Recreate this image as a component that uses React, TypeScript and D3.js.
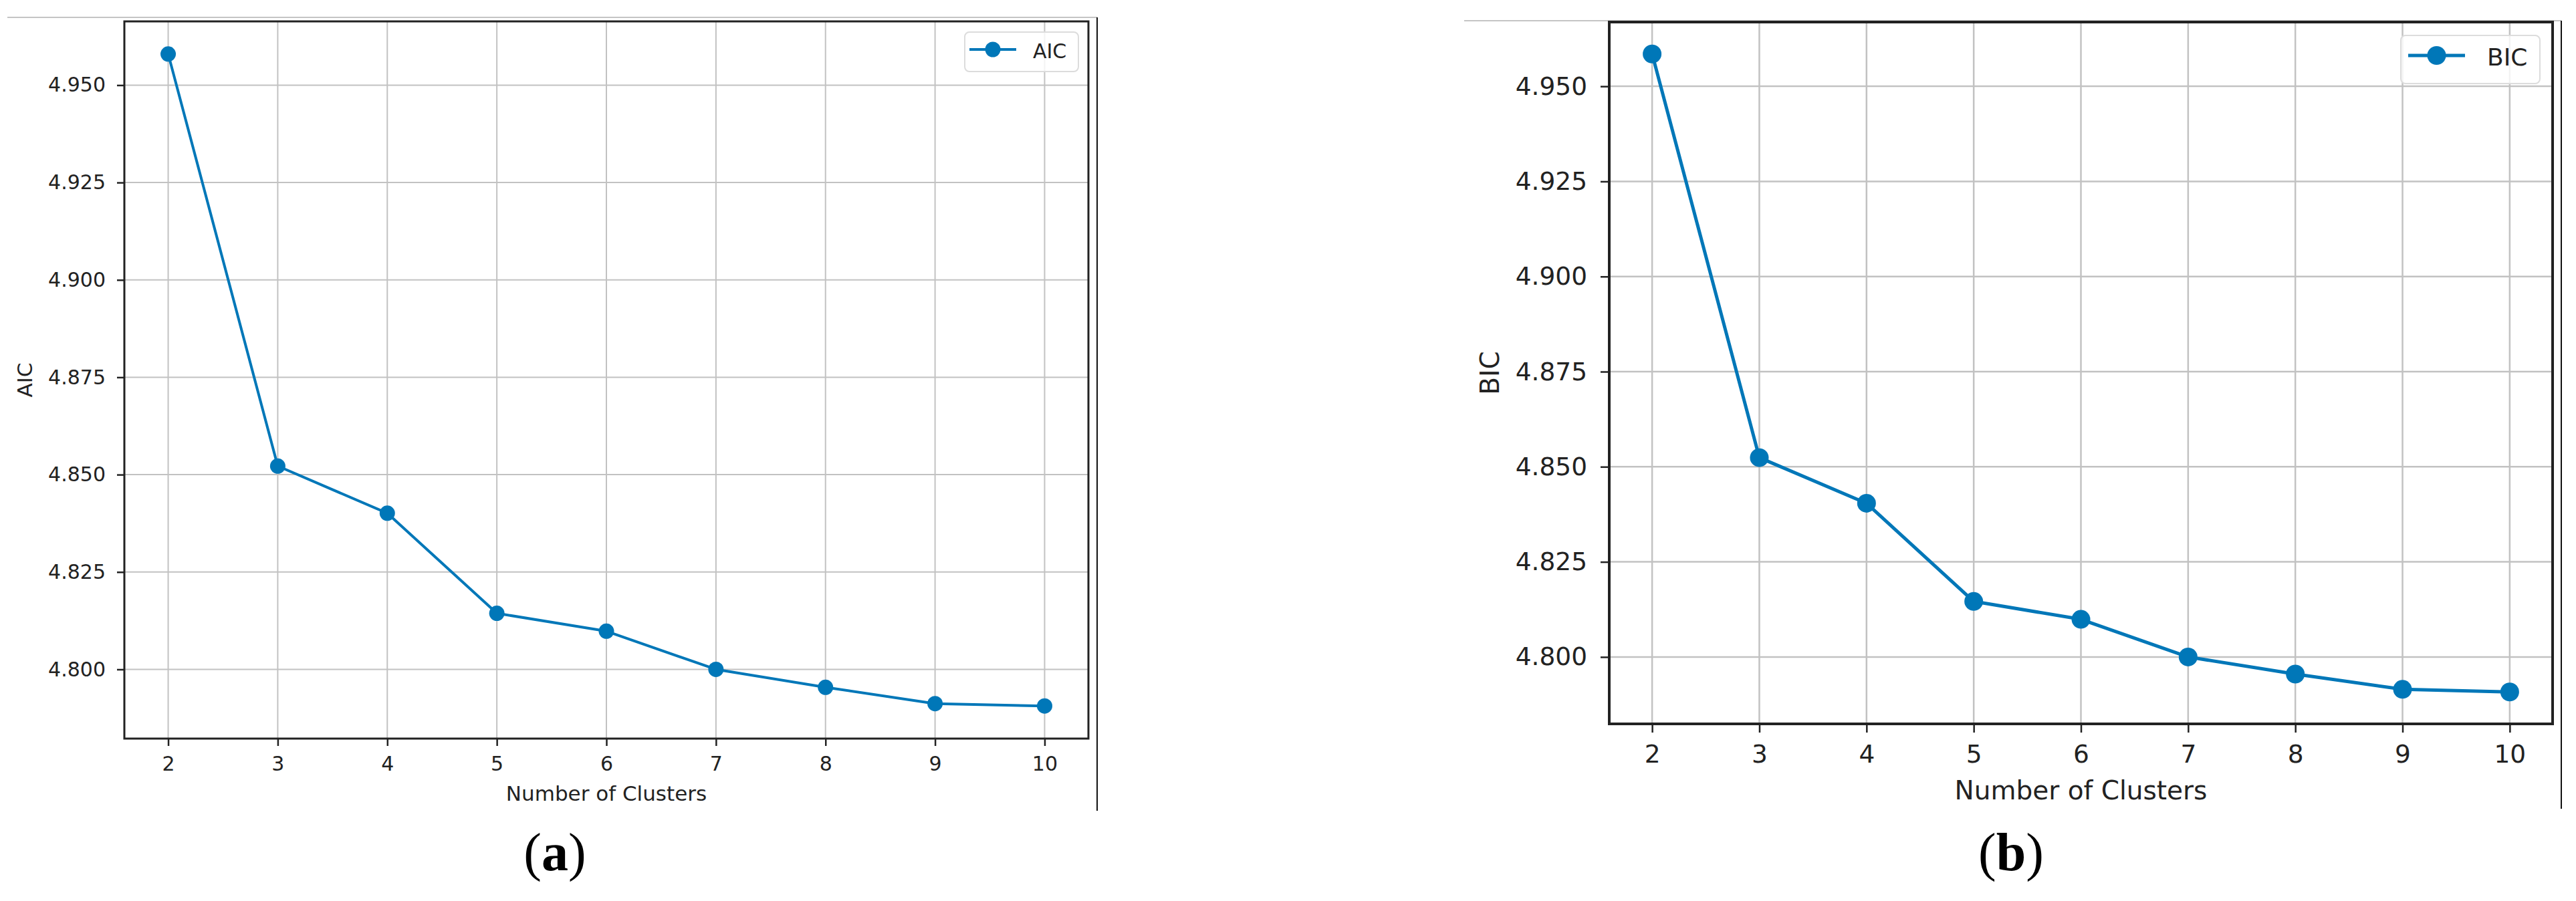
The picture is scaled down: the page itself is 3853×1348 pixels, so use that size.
import React, { useEffect, useRef } from 'react';
import * as d3 from 'd3';

// number of clusters on the x axis
const clusters = [2, 3, 4, 5, 6, 7, 8, 9, 10];
// information criteria
const aicValues = [4.958, 4.8522, 4.8401, 4.8144, 4.8098, 4.8, 4.7954, 4.7912, 4.7906];
const bicValues = [4.9585, 4.8524, 4.8404, 4.8146, 4.8099, 4.8, 4.7955, 4.7915, 4.7908];
const yTicks = [4.8, 4.825, 4.85, 4.875, 4.9, 4.925, 4.95];
const xLabel = 'Number of Clusters';

const BLUE = '#0077b8';
const FONT = '"DejaVu Sans", sans-serif';

const panels = [
  {
    name: 'AIC', caption: 'a', values: aicValues,
    left: 186, right: 1628, top: 32, bottom: 1105,
    frameLeft: 11, frameRight: 1641, frameTop: 26, frameBottom: 1213,
    font: 30, labelFont: 31, tick: 11, padY: 17, padX: 16,
    xLabelY: 1198, yLabelX: 48, captionX: 830,
    r: 11.5, lw: 4, spine: 3, grid: 2,
    legend: { x0: 1443, x1: 1613, y0: 48, y1: 107, lx0: 1450, lx1: 1520, ly: 74, tx: 1545, ty: 87, font: 30 },
  },
  {
    name: 'BIC', caption: 'b', values: bicValues,
    left: 2407, right: 3818, top: 33, bottom: 1083,
    frameLeft: 2190, frameRight: 3831, frameTop: 31, frameBottom: 1210,
    font: 37.5, labelFont: 39, tick: 13, padY: 20, padX: 18,
    xLabelY: 1196, yLabelX: 2242, captionX: 3008,
    r: 14, lw: 5, spine: 4, grid: 2.5,
    legend: { x0: 3591, x1: 3799, y0: 53, y1: 125, lx0: 3602, lx1: 3687, ly: 83, tx: 3720, ty: 98, font: 36 },
  },
];

// matplotlib style 5% margins
const padded = (ext: [number, number]) => {
  const m = (ext[1] - ext[0]) * 0.05;
  return [ext[0] - m, ext[1] + m];
};

const App = () => {
  const svgRef = useRef<SVGSVGElement>(null);

  useEffect(() => {
    const svg = d3.select(svgRef.current);
    svg.selectAll('*').remove();

    panels.forEach((p) => {
      const g = svg.append('g');
      const x = d3.scaleLinear().domain(padded(d3.extent(clusters) as [number, number])).range([p.left, p.right]);
      const y = d3.scaleLinear().domain(padded(d3.extent(p.values) as [number, number])).range([p.bottom, p.top]);

      // screenshot frame lines
      g.append('line')
        .attr('x1', p.frameLeft).attr('x2', p.frameRight)
        .attr('y1', p.frameTop).attr('y2', p.frameTop)
        .attr('stroke', '#c4c4c4').attr('stroke-width', 2);
      g.append('line')
        .attr('x1', p.frameRight).attr('x2', p.frameRight)
        .attr('y1', p.frameTop).attr('y2', p.frameBottom)
        .attr('stroke', '#111').attr('stroke-width', 2);

      // grid
      g.append('g').selectAll('line')
        .data(clusters)
        .enter().append('line')
        .attr('x1', d => x(d)).attr('x2', d => x(d))
        .attr('y1', p.top).attr('y2', p.bottom)
        .attr('stroke', '#c2c2c2').attr('stroke-width', p.grid);
      g.append('g').selectAll('line')
        .data(yTicks)
        .enter().append('line')
        .attr('x1', p.left).attr('x2', p.right)
        .attr('y1', d => y(d)).attr('y2', d => y(d))
        .attr('stroke', '#c2c2c2').attr('stroke-width', p.grid);

      // axes
      const yAxis = g.append('g')
        .attr('transform', `translate(${p.left},0)`)
        .call(d3.axisLeft(y).tickValues(yTicks).tickFormat(d3.format('.3f')).tickSize(p.tick).tickPadding(p.padY));
      const xAxis = g.append('g')
        .attr('transform', `translate(0,${p.bottom})`)
        .call(d3.axisBottom(x).tickValues(clusters).tickFormat(d3.format('d')).tickSize(p.tick).tickPadding(p.padX));
      [yAxis, xAxis].forEach(ax => {
        ax.select('.domain').remove();
        ax.selectAll('line').attr('stroke', '#222').attr('stroke-width', 2.5);
        ax.selectAll('text')
          .attr('fill', '#222')
          .style('font-family', FONT)
          .style('font-size', `${p.font}px`);
      });

      // spines
      g.append('rect')
        .attr('x', p.left).attr('y', p.top)
        .attr('width', p.right - p.left).attr('height', p.bottom - p.top)
        .attr('fill', 'none').attr('stroke', '#222').attr('stroke-width', p.spine);

      // axis labels
      g.append('text')
        .attr('x', (p.left + p.right) / 2).attr('y', p.xLabelY)
        .attr('text-anchor', 'middle')
        .attr('fill', '#222')
        .style('font-family', FONT).style('font-size', `${p.labelFont}px`)
        .text(xLabel);
      g.append('text')
        .attr('transform', `translate(${p.yLabelX},${(p.top + p.bottom) / 2}) rotate(-90)`)
        .attr('text-anchor', 'middle')
        .attr('fill', '#222')
        .style('font-family', FONT).style('font-size', `${p.labelFont}px`)
        .text(p.name);

      // series
      const line = d3.line<number>()
        .x((d, i) => x(clusters[i]))
        .y(d => y(d));
      g.append('path')
        .datum(p.values)
        .attr('fill', 'none')
        .attr('stroke', BLUE)
        .attr('stroke-width', p.lw)
        .attr('stroke-linejoin', 'round')
        .attr('d', line);
      g.append('g').selectAll('circle')
        .data(p.values)
        .enter().append('circle')
        .attr('cx', (d, i) => x(clusters[i]))
        .attr('cy', d => y(d))
        .attr('r', p.r)
        .attr('fill', BLUE);

      // legend
      const L = p.legend;
      g.append('rect')
        .attr('x', L.x0).attr('y', L.y0)
        .attr('width', L.x1 - L.x0).attr('height', L.y1 - L.y0)
        .attr('rx', 7)
        .attr('fill', 'white').attr('fill-opacity', 0.8)
        .attr('stroke', '#dcdcdc').attr('stroke-width', 2);
      g.append('line')
        .attr('x1', L.lx0).attr('x2', L.lx1)
        .attr('y1', L.ly).attr('y2', L.ly)
        .attr('stroke', BLUE).attr('stroke-width', p.lw);
      g.append('circle')
        .attr('cx', (L.lx0 + L.lx1) / 2).attr('cy', L.ly)
        .attr('r', p.r)
        .attr('fill', BLUE);
      g.append('text')
        .attr('x', L.tx).attr('y', L.ty)
        .attr('fill', '#222')
        .style('font-family', FONT).style('font-size', `${L.font}px`)
        .text(p.name);

      // caption (a) / (b)
      const cap = g.append('text')
        .attr('x', p.captionX).attr('y', 1302)
        .attr('text-anchor', 'middle')
        .attr('fill', '#000')
        .style('font-family', '"Liberation Serif", serif')
        .style('font-size', '80px');
      cap.append('tspan').text('(');
      cap.append('tspan').attr('font-weight', 'bold').text(p.caption);
      cap.append('tspan').text(')');
    });
  }, []);

  return (
    <svg
      ref={svgRef}
      width={3853}
      height={1348}
      style={{ position: 'absolute', left: 0, top: 0, background: 'white' }}
    />
  );
};

export default App;
